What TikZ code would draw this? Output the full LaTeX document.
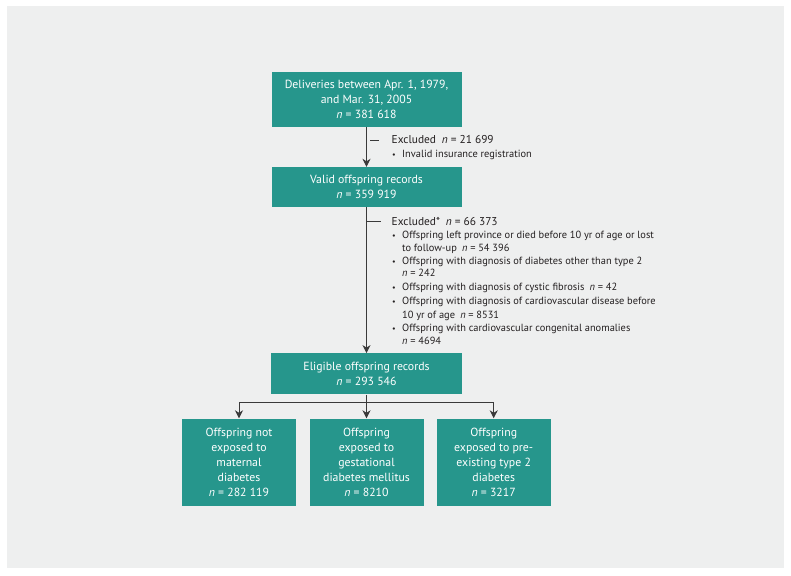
\documentclass[tikz,border=0pt]{standalone}
\usepackage{fontspec}
\setmainfont{PT Sans}
\usetikzlibrary{arrows.meta}
\definecolor{boxteal}{HTML}{26968C}
\definecolor{panelgray}{HTML}{EEEFEF}
\definecolor{linegray}{HTML}{3A3A3A}
\definecolor{textdark}{HTML}{231F20}
\begin{document}
\begin{tikzpicture}[x=1pt,y=-1pt,
  box/.style={fill=boxteal, text=white, align=center, inner sep=0pt,
    font=\fontsize{11.8}{15}\selectfont},
  arr/.style={draw=linegray, line width=0.9pt, -{Stealth[length=8pt,width=8pt,inset=2.5pt]}},
  conn/.style={draw=linegray, line width=0.9pt},
  tick/.style={draw=linegray, line width=0.8pt},
  exhead/.style={anchor=base west, inner sep=0pt, text=textdark, font=\fontsize{11.4}{14}\selectfont},
  exitem/.style={anchor=base west, inner sep=0pt, text=textdark, font=\fontsize{10.4}{13}\selectfont},
  bul/.style={anchor=base west, inner sep=0pt, text=textdark, font=\fontsize{8}{13}\selectfont}
]
\fill[white] (0,0) rectangle (791,575);
\useasboundingbox (0,0) rectangle (791,575);
\fill[panelgray] (7,6) rectangle (784,568);

% main boxes
\node[box, minimum width=190pt, minimum height=55pt] (top) at (366.5,99.5)
  {Deliveries between Apr. 1, 1979,\\and Mar. 31, 2005\\\textit{n} = 381 618};
\node[box, minimum width=190pt, minimum height=40pt] (valid) at (366.5,187)
  {Valid offspring records\\\textit{n} = 359 919};
\node[box, minimum width=191pt, minimum height=41pt] (elig) at (366.5,373.8)
  {Eligible offspring records\\\textit{n} = 293 546};
\node[box, minimum width=114pt, minimum height=87pt] (b1) at (239,462)
  {Offspring not\\exposed to\\maternal\\diabetes\\\textit{n} = 282 119};
\node[box, minimum width=114pt, minimum height=87pt] (b2) at (366.5,462)
  {Offspring\\exposed to\\gestational\\diabetes mellitus\\\textit{n} = 8210};
\node[box, minimum width=114pt, minimum height=87pt] (b3) at (493.7,462)
  {Offspring\\exposed to pre-\\existing type 2\\diabetes\\\textit{n} = 3217};

% connectors
\draw[arr] (top) -- (valid);
\draw[arr] (valid) -- (elig);
\coordinate (split) at (366.5,402);
\draw[conn] (elig.south) -- (split);
\draw[arr] (split) -| (b1);
\draw[arr] (split) -- (b2);
\draw[arr] (split) -| (b3);

% first exclusion
\coordinate (t1a) at (370,140);
\coordinate (t1b) at (379,140);
\draw[tick] (t1a) -- (t1b);
\node[exhead] (ex1) at (391.5,143.8) {Excluded\enspace\textit{n} = 21 699};
\node[bul] (ex1b) at (392,157) {•};
\node[exitem] (ex1i) at (402,157) {Invalid insurance registration};

% second exclusion
\coordinate (t2a) at (367,221);
\coordinate (t2b) at (381,221);
\draw[tick] (t2a) -- (t2b);
\node[exhead] (ex2) at (391.5,225) {Excluded*\enspace\textit{n} = 66 373};
\node[bul] (b21) at (392,238.3) {•};
\node[exitem] (e21) at (402,238.3) {Offspring left province or died before 10 yr of age or lost};
\node[exitem] (e22) at (402,251) {to follow-up\enspace\textit{n} = 54 396};
\node[bul] (b23) at (392,264.3) {•};
\node[exitem] (e23) at (402,264.3) {Offspring with diagnosis of diabetes other than type 2};
\node[exitem] (e24) at (402,276.7) {\textit{n} = 242};
\node[bul] (b25) at (392,290.7) {•};
\node[exitem] (e25) at (402,290.7) {Offspring with diagnosis of cystic fibrosis\enspace\textit{n} = 42};
\node[bul] (b26) at (392,304.3) {•};
\node[exitem] (e26) at (402,304.3) {Offspring with diagnosis of cardiovascular disease before};
\node[exitem] (e27) at (402,318.3) {10 yr of age\enspace\textit{n} = 8531};
\node[bul] (b28) at (392,331) {•};
\node[exitem] (e28) at (402,331) {Offspring with cardiovascular congenital anomalies};
\node[exitem] (e29) at (402,344) {\textit{n} = 4694};
\end{tikzpicture}
\end{document}
